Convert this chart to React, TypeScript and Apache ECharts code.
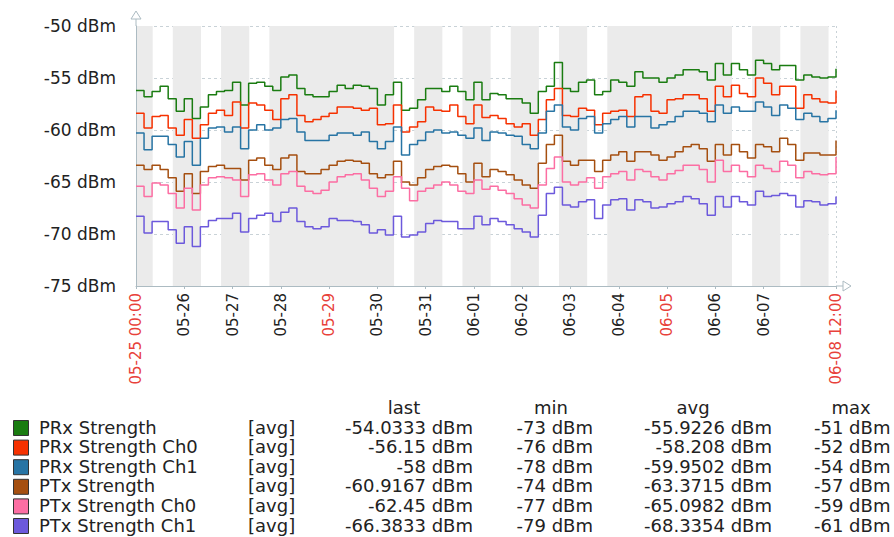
import React, { useEffect, useRef } from 'react';
import * as echarts from 'echarts';

// ---- data ----
const seriesNames = ['PRx Strength', 'PRx Strength Ch0', 'PRx Strength Ch1', 'PTx Strength', 'PTx Strength Ch0', 'PTx Strength Ch1'];
const seriesColors = ['#1A7C11', '#F63100', '#2774A4', '#A54F10', '#FC6EA3', '#6C59DC'];

// sample times in hours since 05-25 00:00 (every 4 hours, to 06-08 12:00)
const sampleStep = 4;
const lastHour = 348;

const prx = [
  -56.2, -56.8, -56.3, -55.8, -57.0, -58.2, -57.0, -58.9, -57.8, -56.6, -56.3, -56.2, -55.4, -57.6, -55.5, -55.4, -55.8, -56.2, -54.9, -54.7, -56.0, -56.6,
  -56.8, -56.8, -56.3, -55.7, -56.0, -55.7, -55.8, -56.0, -57.6, -56.6, -55.4, -58.1, -57.9, -57.1, -56.0, -56.0, -56.3, -55.8, -56.3, -57.1, -55.4, -57.1,
  -56.5, -56.6, -57.0, -57.0, -57.4, -58.4, -56.3, -55.8, -53.5, -56.0, -56.3, -55.4, -55.2, -56.6, -56.3, -55.2, -55.4, -55.8, -54.4, -55.0, -55.0, -55.4,
  -55.0, -54.7, -54.2, -54.2, -54.4, -55.2, -53.6, -54.7, -53.6, -54.2, -54.7, -53.3, -53.6, -54.2, -53.8, -53.8, -55.2, -54.7, -54.9, -55.0, -54.9, -54.1,
];
const prxCh0 = [
  -58.4, -59.8, -58.7, -58.6, -59.8, -60.5, -59.0, -60.8, -59.5, -58.4, -58.1, -58.6, -57.3, -59.8, -57.4, -57.6, -58.1, -59.0, -57.0, -56.6, -58.6, -59.2,
  -59.0, -58.7, -58.4, -57.8, -57.8, -57.9, -58.1, -57.9, -59.5, -59.4, -57.6, -60.2, -59.7, -59.2, -57.8, -58.1, -58.2, -57.6, -58.7, -59.4, -57.6, -58.8,
  -58.6, -58.9, -59.4, -59.7, -59.4, -60.5, -59.0, -57.1, -56.0, -58.6, -58.7, -57.9, -58.1, -59.5, -58.4, -58.2, -58.1, -58.7, -56.8, -56.6, -58.2, -58.4,
  -57.1, -57.0, -56.6, -56.6, -57.0, -58.2, -55.8, -56.8, -55.7, -56.5, -56.8, -55.0, -55.5, -56.6, -55.8, -55.8, -57.9, -56.6, -57.0, -57.3, -57.4, -56.2,
];
const prxCh1 = [
  -60.3, -61.9, -60.6, -60.6, -61.4, -62.6, -61.1, -63.4, -60.8, -59.8, -59.7, -60.2, -59.7, -61.8, -60.0, -59.5, -60.0, -59.8, -59.0, -58.9, -60.2, -61.0,
  -61.0, -61.0, -60.5, -60.3, -60.3, -60.5, -60.2, -61.1, -61.8, -61.1, -59.7, -62.4, -61.4, -61.0, -60.2, -60.0, -60.3, -60.2, -60.5, -60.8, -59.8, -61.0,
  -60.2, -60.3, -60.5, -60.6, -61.4, -61.8, -60.3, -58.2, -57.6, -59.7, -60.0, -58.9, -58.7, -60.3, -59.4, -59.0, -58.7, -59.7, -58.7, -58.7, -59.8, -59.5,
  -59.2, -58.7, -58.2, -58.2, -58.4, -59.2, -57.6, -58.4, -57.8, -58.2, -58.2, -57.3, -57.8, -58.6, -57.6, -57.9, -59.0, -58.4, -58.7, -59.2, -58.9, -58.1,
];
const ptx = [
  -63.4, -63.8, -63.4, -63.8, -64.6, -65.9, -64.2, -66.1, -64.0, -63.5, -63.4, -63.7, -63.7, -64.8, -62.9, -62.7, -63.4, -63.8, -62.7, -62.4, -64.0, -64.2,
  -64.2, -63.8, -63.4, -63.0, -62.9, -63.0, -63.2, -64.2, -64.6, -64.3, -63.0, -65.0, -65.3, -64.6, -63.8, -63.5, -63.4, -63.5, -64.2, -65.0, -63.2, -64.5,
  -63.8, -64.0, -64.3, -64.8, -65.3, -65.6, -63.2, -61.4, -60.5, -63.0, -63.4, -62.9, -62.9, -64.0, -62.9, -62.4, -62.1, -63.0, -62.1, -62.1, -62.4, -62.9,
  -62.6, -62.1, -61.6, -61.4, -61.8, -63.0, -61.4, -62.4, -61.4, -62.1, -62.7, -61.4, -61.6, -62.1, -60.8, -61.4, -62.9, -62.2, -62.2, -62.4, -62.4, -61.0,
];
const ptxCh0 = [
  -65.4, -66.4, -65.1, -65.3, -66.1, -67.5, -65.6, -67.7, -65.3, -64.6, -64.5, -64.6, -64.8, -66.4, -64.3, -64.2, -64.8, -65.3, -64.2, -64.0, -65.4, -65.9,
  -66.1, -65.8, -65.0, -64.5, -64.3, -64.2, -64.8, -65.6, -66.4, -65.9, -64.5, -65.6, -66.8, -65.9, -65.6, -65.3, -65.0, -65.3, -65.9, -66.1, -64.8, -65.7,
  -65.4, -65.8, -66.1, -66.6, -67.2, -67.5, -65.3, -63.7, -62.6, -65.0, -65.3, -65.0, -64.6, -65.6, -64.5, -64.2, -64.0, -64.8, -63.8, -64.0, -64.5, -64.8,
  -64.2, -63.9, -63.4, -63.4, -63.8, -65.0, -62.9, -64.0, -63.4, -64.0, -64.5, -63.4, -63.7, -64.0, -63.0, -63.4, -64.6, -64.0, -64.2, -64.3, -64.2, -62.6,
];
const ptxCh1 = [
  -68.3, -69.9, -68.8, -68.8, -69.6, -70.9, -69.3, -71.2, -69.3, -68.7, -68.5, -68.5, -68.0, -69.8, -68.5, -68.2, -68.0, -68.8, -67.9, -67.5, -68.8, -69.3,
  -69.5, -69.3, -68.5, -68.7, -68.7, -68.8, -69.1, -69.9, -69.6, -70.1, -68.3, -70.3, -70.1, -69.8, -69.0, -68.7, -68.8, -68.8, -69.5, -69.5, -68.3, -69.1,
  -68.5, -68.8, -69.1, -69.5, -69.8, -70.3, -68.2, -66.1, -65.5, -67.2, -67.4, -66.9, -66.7, -68.5, -67.2, -66.7, -66.6, -67.7, -66.7, -66.9, -67.5, -67.4,
  -67.1, -66.9, -66.4, -66.6, -67.1, -68.2, -66.4, -67.4, -66.4, -66.9, -67.2, -65.9, -66.4, -66.3, -66.1, -66.3, -67.4, -66.8, -66.9, -67.2, -67.1, -66.4,
];
const seriesValues = [prx, prxCh0, prxCh1, ptx, ptxCh0, ptxCh1];

// legend table
const funcLabel = '[avg]';
const lastVals = ['-54.0333 dBm', '-56.15 dBm', '-58 dBm', '-60.9167 dBm', '-62.45 dBm', '-66.3833 dBm'];
const minVals = ['-73 dBm', '-76 dBm', '-78 dBm', '-74 dBm', '-77 dBm', '-79 dBm'];
const avgVals = ['-55.9226 dBm', '-58.208 dBm', '-59.9502 dBm', '-63.3715 dBm', '-65.0982 dBm', '-68.3354 dBm'];
const maxVals = ['-51 dBm', '-52 dBm', '-54 dBm', '-57 dBm', '-59 dBm', '-61 dBm'];

// x tick labels (hours since 05-25 00:00)
const xTickHours = [0, 24, 48, 72, 96, 120, 144, 168, 192, 216, 240, 264, 288, 312, 348];
const xTickLabels = ['05-25 00:00', '05-26', '05-27', '05-28', '05-29', '05-30', '05-31', '06-01', '06-02', '06-03', '06-04', '06-05', '06-06', '06-07', '06-08 12:00'];
const xTickRed = ['05-25 00:00', '05-29', '06-05', '06-08 12:00'];

// y axis
const yMin = -75;
const yMax = -50;
const yStep = 5;

// non-working time periods (hours) shaded grey
const nonWorkingPeriods = [
  [0, 8.3], [18.3, 32.3], [42.3, 56.3], [66.3, 128.3], [138.3, 152.3], [162.3, 176.3],
  [186.3, 200.3], [210.3, 224.3], [234.3, 296.3], [306.3, 320.3], [330.3, 344.3],
];

const FONT = 'DejaVu Sans';
const AXIS_COLOR = '#ACBBC2';
const GRID_COLOR = '#C9D2D7';
const TEXT_COLOR = '#222';

export default function App() {
  const ref = useRef<HTMLDivElement>(null);

  useEffect(() => {
    if (!ref.current) return;
    const chart = echarts.init(ref.current, null, { renderer: 'svg' });

    const hours: number[] = [];
    for (let h = 0; h <= lastHour; h += sampleStep) hours.push(h);

    const lineSeries = seriesValues.map((vals, i) => ({
      name: seriesNames[i],
      type: 'line',
      step: 'end',
      symbol: 'none',
      z: 3,
      lineStyle: { color: seriesColors[i], width: 1.5 },
      itemStyle: { color: seriesColors[i] },
      data: vals.map((v, k) => [hours[k], v]),
    }));

    const bandSeries = {
      name: 'bands',
      type: 'line',
      data: [] as any[],
      z: -1,
      silent: true,
      markArea: {
        silent: true,
        itemStyle: { color: '#EBEBEB' },
        data: nonWorkingPeriods.map(([a, b]) => [{ xAxis: a }, { xAxis: b }]),
      },
    };

    // legend graphics
    const legendEls: any[] = [];
    const rowY0 = 427;
    const rowH = 19.6;
    const headerY = 407;
    const txt = (x: number, y: number, text: string, align: string) => ({
      type: 'text',
      x,
      y,
      silent: true,
      style: { text, fill: TEXT_COLOR, font: `18px "${FONT}"`, align, verticalAlign: 'middle' },
    });
    legendEls.push(txt(404, headerY, 'last', 'center'));
    legendEls.push(txt(551, headerY, 'min', 'center'));
    legendEls.push(txt(693, headerY, 'avg', 'center'));
    legendEls.push(txt(851, headerY, 'max', 'center'));
    seriesNames.forEach((name, i) => {
      const y = rowY0 + i * rowH;
      legendEls.push({
        type: 'rect',
        silent: true,
        shape: { x: 13.5, y: y - 6.5, width: 15, height: 15 },
        style: { fill: seriesColors[i], stroke: '#333', lineWidth: 1 },
      });
      legendEls.push(txt(39, y, name, 'left'));
      legendEls.push(txt(248, y, funcLabel, 'left'));
      legendEls.push(txt(473, y, lastVals[i], 'right'));
      legendEls.push(txt(593, y, minVals[i], 'right'));
      legendEls.push(txt(772, y, avgVals[i], 'right'));
      legendEls.push(txt(814, y, maxVals[i], 'left'));
    });

    // axis arrows (hollow triangles) and axis extensions
    const arrowEls: any[] = [
      { type: 'line', silent: true, shape: { x1: 136, y1: 26, x2: 136, y2: 19 }, style: { stroke: AXIS_COLOR, lineWidth: 1 } },
      { type: 'polygon', silent: true, shape: { points: [[136, 11], [131, 19], [141, 19]] }, style: { fill: '#fff', stroke: AXIS_COLOR, lineWidth: 1 } },
      { type: 'line', silent: true, shape: { x1: 836, y1: 286, x2: 843, y2: 286 }, style: { stroke: AXIS_COLOR, lineWidth: 1 } },
      { type: 'polygon', silent: true, shape: { points: [[851, 286], [843, 281], [843, 291]] }, style: { fill: '#fff', stroke: AXIS_COLOR, lineWidth: 1 } },
    ];

    const option: any = {
      animation: false,
      backgroundColor: '#fff',
      grid: { left: 136, right: 58, top: 26, bottom: 251, containLabel: false },
      xAxis: {
        type: 'value',
        min: 0,
        max: lastHour,
        interval: 24,
        z: 1,
        axisLine: { show: true, onZero: false, lineStyle: { color: AXIS_COLOR, width: 1 } },
        axisTick: { show: true, length: 3, customValues: xTickHours, lineStyle: { color: AXIS_COLOR } },
        splitLine: {
          show: true,
          customValues: xTickHours,
          lineStyle: { color: GRID_COLOR, type: [2, 3], width: 1 },
        },
        axisLabel: {
          customValues: xTickHours,
          rotate: 90,
          margin: 7,
          fontSize: 15,
          fontFamily: FONT,
          color: (v: any) => {
            const idx = xTickHours.indexOf(Number(v));
            return idx >= 0 && xTickRed.includes(xTickLabels[idx]) ? '#E8413A' : TEXT_COLOR;
          },
          formatter: (v: number) => {
            const idx = xTickHours.indexOf(Number(v));
            return idx >= 0 ? xTickLabels[idx] : '';
          },
        },
      },
      yAxis: {
        type: 'value',
        min: yMin,
        max: yMax,
        interval: yStep,
        z: 1,
        axisLine: { show: true, lineStyle: { color: AXIS_COLOR, width: 1 } },
        axisTick: { show: false },
        splitLine: { show: true, lineStyle: { color: GRID_COLOR, type: [3, 3], width: 1 } },
        axisLabel: {
          margin: 20,
          fontSize: 17,
          fontFamily: FONT,
          color: TEXT_COLOR,
          formatter: (v: number) => `${v} dBm`,
        },
      },
      series: [bandSeries, ...lineSeries],
      graphic: [...arrowEls, ...legendEls],
    };

    chart.setOption(option);
    return () => chart.dispose();
  }, []);

  return <div ref={ref} style={{ position: 'absolute', left: 0, top: 0, width: 894, height: 537 }} />;
}
